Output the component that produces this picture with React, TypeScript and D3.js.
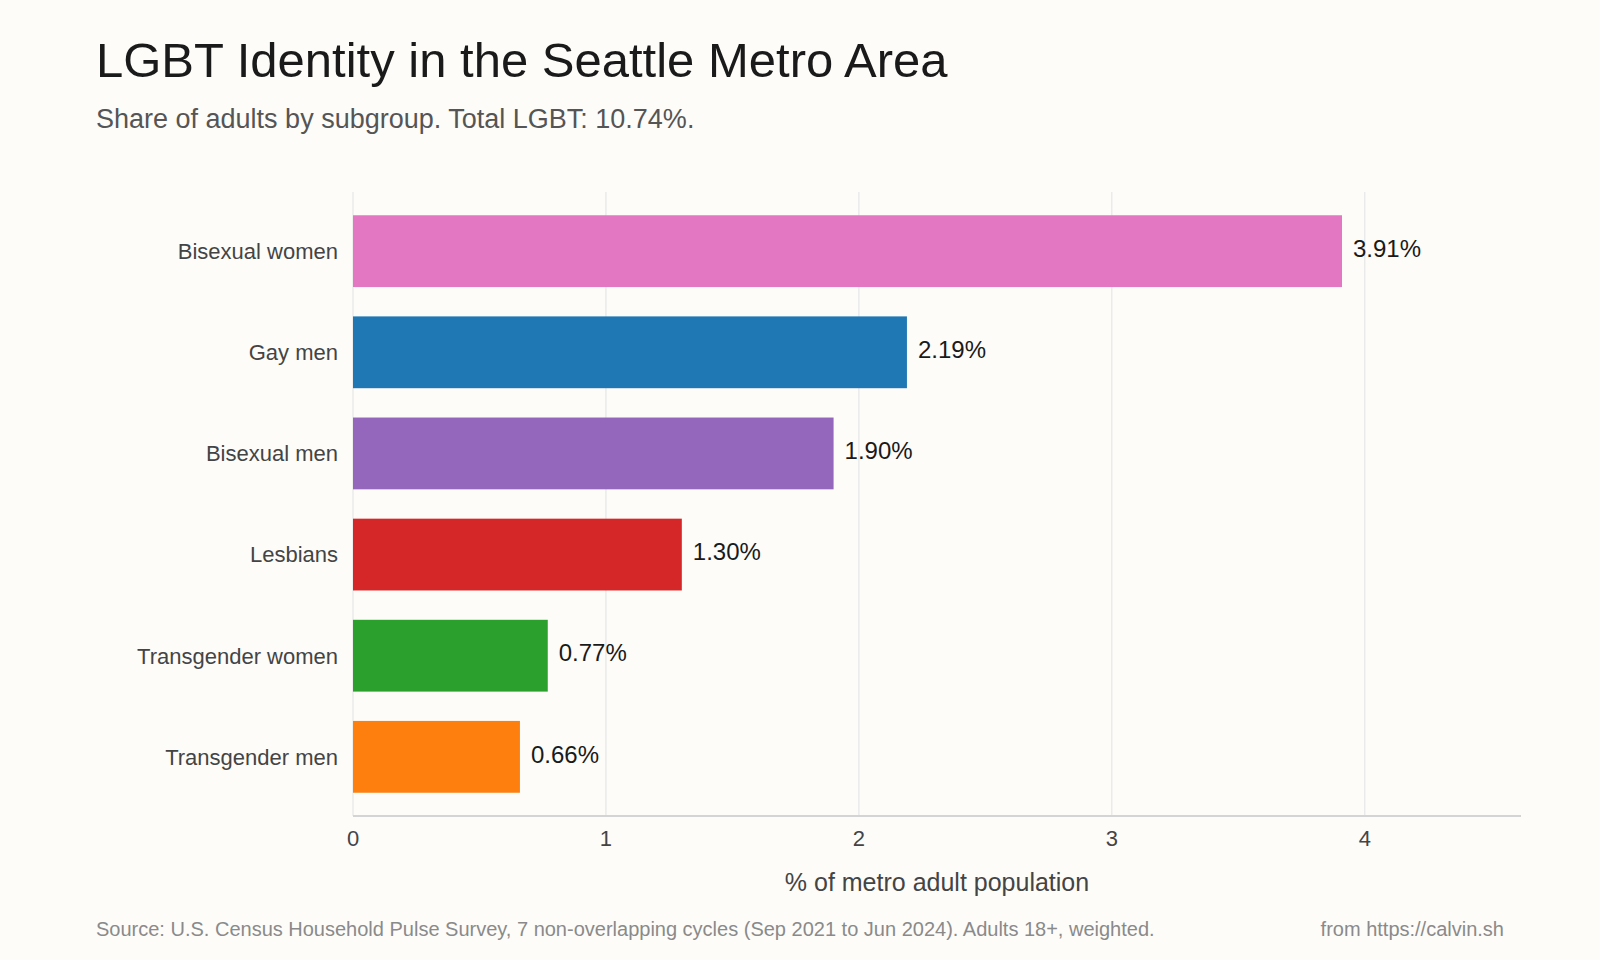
import React, { useEffect, useRef } from "react";
import * as d3 from "d3";

const categories = ["Bisexual women", "Gay men", "Bisexual men", "Lesbians", "Transgender women", "Transgender men"];
const shares = [3.91, 2.19, 1.9, 1.3, 0.77, 0.66];
const barColors = ["#e377c2", "#1f77b4", "#9467bd", "#d62728", "#2ca02c", "#ff7f0e"];
const xTicks = [0, 1, 2, 3, 4];

const W = 1600;
const H = 960;
const FONT = "'Liberation Sans', Arial, Helvetica, sans-serif";

export default function App() {
  const ref = useRef<SVGSVGElement | null>(null);

  useEffect(() => {
    document.body.style.margin = "0";
    if (!ref.current) return;
    const svg = d3.select(ref.current);
    svg.selectAll("*").remove();

    const margin = { top: 192, right: 79, bottom: 144, left: 353 };
    const w = W - margin.left - margin.right;
    const h = H - margin.top - margin.bottom;

    svg.append("rect").attr("width", W).attr("height", H).attr("fill", "#fdfcf9");

    const x = d3.scaleLinear().domain([0, d3.max(shares)! * 1.181]).range([0, w]);
    const y = d3.scaleBand().domain(categories).range([0, h]).paddingInner(0.29).paddingOuter(0.23);

    const g = svg.append("g").attr("transform", `translate(${margin.left},${margin.top})`);

    // grid
    g.selectAll(".grid").data(xTicks).enter().append("line")
      .attr("x1", (d) => x(d)).attr("x2", (d) => x(d))
      .attr("y1", 0).attr("y2", h)
      .attr("stroke", "#e6e6e6").attr("stroke-width", 1.2);

    // bars
    const rows = categories.map((c, i) => ({ label: c, value: shares[i], color: barColors[i] }));
    g.selectAll(".bar").data(rows).enter().append("rect")
      .attr("x", 0)
      .attr("y", (d) => y(d.label)!)
      .attr("width", (d) => x(d.value))
      .attr("height", y.bandwidth())
      .attr("fill", (d) => d.color);

    g.selectAll(".val").data(rows).enter().append("text")
      .attr("x", (d) => x(d.value) + 11)
      .attr("y", (d) => y(d.label)! + y.bandwidth() / 2)
      .attr("dy", "0.24em")
      .style("font-family", FONT).style("font-size", "24px").style("fill", "#1a1a1a")
      .text((d) => d.value.toFixed(2) + "%");

    // y labels
    g.selectAll(".cat").data(rows).enter().append("text")
      .attr("x", -15)
      .attr("y", (d) => y(d.label)! + y.bandwidth() / 2)
      .attr("dy", "0.36em")
      .attr("text-anchor", "end")
      .style("font-family", FONT).style("font-size", "22px").style("fill", "#444")
      .text((d) => d.label);

    // x axis
    g.append("line").attr("x1", 0).attr("x2", w).attr("y1", h).attr("y2", h)
      .attr("stroke", "#d4d4d4").attr("stroke-width", 2);
    g.selectAll(".tick").data(xTicks).enter().append("text")
      .attr("x", (d) => x(d)).attr("y", h + 30)
      .attr("text-anchor", "middle")
      .style("font-family", FONT).style("font-size", "22px").style("fill", "#444")
      .text((d) => String(d));
    g.append("text").attr("x", w / 2).attr("y", h + 75)
      .attr("text-anchor", "middle")
      .style("font-family", FONT).style("font-size", "25px").style("fill", "#444")
      .text("% of metro adult population");

    // titles
    svg.append("text").attr("x", 96).attr("y", 77)
      .style("font-family", FONT).style("font-size", "49px").style("fill", "#1a1a1a")
      .text("LGBT Identity in the Seattle Metro Area");
    svg.append("text").attr("x", 96).attr("y", 128)
      .style("font-family", FONT).style("font-size", "27px").style("fill", "#555")
      .text("Share of adults by subgroup. Total LGBT: 10.74%.");

    // footer
    svg.append("text").attr("x", 96).attr("y", 936)
      .style("font-family", FONT).style("font-size", "20px").style("fill", "#8a8a8a")
      .text("Source: U.S. Census Household Pulse Survey, 7 non-overlapping cycles (Sep 2021 to Jun 2024). Adults 18+, weighted.");
    svg.append("text").attr("x", 1504).attr("y", 936).attr("text-anchor", "end")
      .style("font-family", FONT).style("font-size", "20px").style("fill", "#8a8a8a")
      .text("from https://calvin.sh");
  }, []);

  return <svg ref={ref} width={W} height={H} style={{ display: "block" }} />;
}
